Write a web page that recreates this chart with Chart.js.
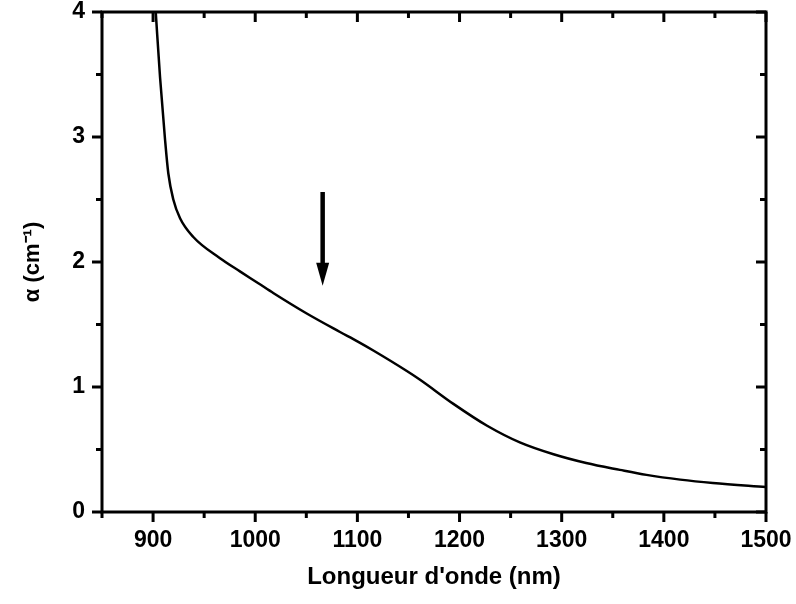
<!doctype html>
<html>
<head>
<meta charset="UTF-8">
<title>Absorption</title>
<style>
body { margin: 0; background: #fff; }
#box { width: 796px; height: 604px; }
</style>
</head>
<body>
<div id="box"><canvas id="myChart"></canvas></div>
<script src="https://cdn.jsdelivr.net/npm/chart.js@4/dist/chart.umd.min.js"></script>
<script>
// longueur d'onde (nm) et alpha (cm-1)
var lambda = [902.6, 906.8, 911.7, 914.9, 919.8, 926.4, 939.4, 965.5, 985, 1003, 1018, 1050, 1083, 1100, 1116, 1148, 1161, 1194, 1227, 1259, 1292, 1324, 1357, 1383, 1416, 1448, 1500];
var alpha = [4.00, 3.48, 2.98, 2.71, 2.50, 2.35, 2.20, 2.03, 1.925, 1.83, 1.75, 1.59, 1.44, 1.365, 1.29, 1.13, 1.06, 0.865, 0.69, 0.557, 0.462, 0.392, 0.337, 0.297, 0.259, 0.232, 0.20];

// fleche : position x, debut et pointe en alpha
var arrowX = 1066;
var arrowFrom = 2.56;
var arrowTo = 1.81;

var xMin = 850, xMax = 1500, xStep = 50;
var yMin = 0, yMax = 4, yStep = 0.5;

var pts = [];
for (var i = 0; i < lambda.length; i++) {
	pts.push({x: lambda[i], y: alpha[i]});
}

var fontFam = "Arial, 'Liberation Sans', sans-serif";

function seg(ctx, x1, y1, x2, y2) {
	ctx.beginPath();
	ctx.moveTo(x1, y1);
	ctx.lineTo(x2, y2);
	ctx.stroke();
}

// cadre, graduations (majeures + mineures) et fleche
var axisMarks = {
	id: 'axisMarks',
	afterDraw: function (chart) {
		var ctx = chart.ctx, a = chart.chartArea;
		var sx = chart.scales.x, sy = chart.scales.y;
		ctx.save();
		ctx.strokeStyle = '#000';
		ctx.fillStyle = '#000';
		ctx.lineWidth = 3;
		ctx.strokeRect(a.left, a.top, a.right - a.left, a.bottom - a.top);
		sx.ticks.forEach(function (t) {
			var px = sx.getPixelForValue(t.value);
			var len = (t.value % 100 === 0) ? 10 : 6;
			seg(ctx, px, a.bottom, px, a.bottom + len);
			seg(ctx, px, a.top, px, a.top + len);
		});
		sy.ticks.forEach(function (t) {
			var py = sy.getPixelForValue(t.value);
			var len = (t.value % 1 === 0) ? 10 : 6;
			seg(ctx, a.left, py, a.left - len, py);
			seg(ctx, a.right, py, a.right - len, py);
		});
		// fleche
		var ax = sx.getPixelForValue(arrowX);
		var y1 = sy.getPixelForValue(arrowFrom);
		var y2 = sy.getPixelForValue(arrowTo);
		ctx.lineWidth = 4.5;
		seg(ctx, ax, y1, ax, y2 - 18);
		ctx.beginPath();
		ctx.moveTo(ax - 6.5, y2 - 23);
		ctx.lineTo(ax + 6.5, y2 - 23);
		ctx.lineTo(ax, y2);
		ctx.closePath();
		ctx.fill();
		ctx.restore();
	}
};

var ctx = document.getElementById('myChart');
var myChart = new Chart(ctx, {
	type: 'line',
	data: {
		datasets: [{
			data: pts,
			borderColor: '#000',
			borderWidth: 2.5,
			pointRadius: 0,
			fill: false,
			cubicInterpolationMode: 'monotone'
		}]
	},
	options: {
		responsive: true,
		maintainAspectRatio: false,
		animation: false,
		layout: { padding: { left: 0, top: 12, right: 30, bottom: 0 } },
		plugins: { legend: { display: false }, tooltip: { enabled: false } },
		scales: {
			x: {
				type: 'linear',
				min: xMin, max: xMax,
				grid: { display: false, drawTicks: false },
				border: { display: false },
				ticks: {
					stepSize: xStep,
					autoSkip: false,
					maxRotation: 0,
					padding: 17,
					color: '#000',
					font: { family: fontFam, size: 23, weight: 'bold', lineHeight: 1 },
					callback: function (v) { return v % 100 === 0 ? String(v) : ''; }
				},
				title: {
					display: true,
					text: "Longueur d'onde (nm)",
					color: '#000',
					padding: 12,
					font: { family: fontFam, size: 24, weight: 'bold' }
				},
				afterFit: function (s) {
					s.height = 92;
					s.paddingLeft = 0;
					s.paddingRight = 0;
				}
			},
			y: {
				type: 'linear',
				min: yMin, max: yMax,
				grid: { display: false, drawTicks: false },
				border: { display: false },
				ticks: {
					stepSize: yStep,
					autoSkip: false,
					padding: 17,
					color: '#000',
					font: { family: fontFam, size: 23, weight: 'bold', lineHeight: 1 },
					callback: function (v) { return v % 1 === 0 ? String(v) : ''; }
				},
				title: {
					display: true,
					text: 'α (cm⁻¹)',
					color: '#000',
					padding: 20,
					font: { family: fontFam, size: 22, weight: 'bold' }
				},
				afterFit: function (s) {
					s.width = 102;
					s.paddingTop = 0;
					s.paddingBottom = 0;
				}
			}
		}
	},
	plugins: [axisMarks]
});
</script>
</body>
</html>
